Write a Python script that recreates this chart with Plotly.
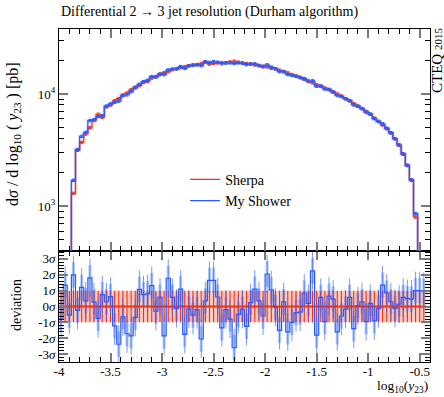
import plotly.graph_objects as go

# ---------------- data ----------------
bin_lo = -4.0
bin_w = 0.04
n_bins = 89

sherpa = [120, 200, 300, 1300, 3150, 3700, 4400, 5000, 5800, 6600,
          6200, 7700, 8000, 8700, 9100, 9800, 10200, 10900, 11500, 11900,
          12700, 13000, 13900, 14300, 14900, 15500, 15800, 16500, 16800, 17200,
          17500, 17900, 18200, 18300, 18600, 19300, 18500, 18800, 19000, 19100,
          19000, 19300, 19600, 19200, 18900, 18700, 18500, 18200, 17900, 17700,
          17500, 17000, 16800, 16300, 15800, 15400, 14900, 14500, 14100, 13500,
          13000, 12600, 12100, 11700, 11300, 10900, 10400, 10000, 9600, 9100,
          8700, 8200, 7800, 7400, 7000, 6600, 6100, 5700, 5300, 4900,
          4500, 4000, 3500, 2900, 2300, 1700, 800, 250, 60]

my_shower = [110, 215, 290, 1700, 3200, 4200, 4550, 5800, 5900, 6300,
             6400, 7800, 8150, 8450, 8650, 9650, 9850, 10500, 11350, 12200,
             12900, 13250, 14300, 14200, 15100, 14900, 16400, 16700, 16750, 17600,
             16900, 17850, 18000, 18250, 17900, 19400, 19100, 19400, 19200, 18650,
             18950, 19000, 18700, 19000, 18850, 18300, 18600, 18550, 18000, 17500,
             18200, 17350, 16800, 15850, 15900, 14950, 14650, 14400, 14000, 13700,
             13050, 13100, 11750, 11800, 11100, 11000, 10450, 9700, 9500, 9080,
             8750, 8000, 7800, 7430, 6900, 6620, 6020, 5690, 5420, 4960,
             4520, 3990, 3510, 2930, 2320, 1720, 860, 270, 65]

deviation = [-0.8, 1.35, -0.55, 2.0, -0.25, 1.2, 0.35, 1.8, 0.28, -0.75,
             0.75, 0.3, 0.62, -1.22, -2.38, -0.65, -1.72, -1.85, -0.68, 1.08,
             0.75, 0.8, 1.32, -0.3, 0.6, -1.85, 1.78, 0.58, -0.12, 1.1,
             -1.76, -0.15, -0.55, -0.2, -2.05, 0.35, 1.65, 1.65, 0.6, -1.35,
             -0.2, -0.8, -2.6, -0.5, -0.17, -1.25, 0.25, 1.1, 0.35, -0.6,
             2.05, 1.05, -0.05, -1.5, 0.3, -1.6, -1.0, -0.4, -0.35, 0.85,
             0.2, 2.25, -1.8, 0.57, -0.95, 0.65, 0.47, -1.6, -0.6, -0.17,
             0.57, -1.4, 0.05, 0.3, -0.95, 0.2, -0.9, -0.12, 1.35, 0.85,
             0.3, -0.12, 0.15, 0.57, 0.5, 0.47, 1.0, 1.0, 0.95]
dev_err = 1.0

x_ticks = [-4, -3.5, -3, -2.5, -2, -1.5, -1, -0.5]
x_ticktext = ["-4", "-3.5", "-3", "-2.5", "-2", "-1.5", "-1", "-0.5"]
dev_ticks = [-3, -2, -1, 0, 1, 2, 3]
dev_ticktext = ["-3<i>σ</i>", "-2<i>σ</i>", "-1<i>σ</i>", "0<i>σ</i>", "1<i>σ</i>", "2<i>σ</i>", "3<i>σ</i>"]
log_ticks = [1000, 10000]
log_ticktext = ["10<sup>3</sup>", "10<sup>4</sup>"]
log_minor = [400, 500, 600, 700, 800, 900, 2000, 3000, 4000, 5000, 6000, 7000, 8000, 9000, 20000, 30000]

# ---------------- derived ----------------
edges = [round(bin_lo + bin_w * k, 4) for k in range(n_bins + 1)]
centers = [round(bin_lo + bin_w * (k + 0.5), 4) for k in range(n_bins)]

RED = "rgb(240,50,20)"
RED_PALE = "rgba(245,80,50,0.22)"
BLUE = "rgb(40,90,255)"
BLUE_PALE = "rgba(60,110,255,0.22)"
FONT = "Liberation Serif"

def step(vals):
    return edges, list(vals) + [vals[-1]]

fig = go.Figure()

# ---------- upper panel ----------
for vals, col, pale, name in [(sherpa, RED, RED_PALE, "Sherpa"), (my_shower, BLUE, BLUE_PALE, "My Shower")]:
    sx, sy = step(vals)
    fig.add_trace(go.Scatter(x=sx, y=sy, mode="lines", line=dict(shape="hv", color=pale, width=3),
                             xaxis="x2", yaxis="y2", showlegend=False, hoverinfo="skip"))
    fig.add_trace(go.Scatter(x=centers, y=vals, mode="markers", marker=dict(size=1, color=col, opacity=0),
                             error_y=dict(type="percent", value=2.5, color=col, thickness=1, width=1.5),
                             xaxis="x2", yaxis="y2", showlegend=False, hoverinfo="skip"))
    fig.add_trace(go.Scatter(x=sx, y=sy, mode="lines", line=dict(shape="hv", color=col, width=1.2),
                             xaxis="x2", yaxis="y2", name=name))

# ---------- lower panel ----------
fig.add_trace(go.Scatter(x=[edges[0], edges[-1], edges[-1], edges[0], edges[0]],
                         y=[-1, -1, 1, 1, -1], mode="lines", fill="toself",
                         fillcolor="rgba(250,120,95,0.40)", line=dict(width=0),
                         xaxis="x", yaxis="y", showlegend=False, hoverinfo="skip"))
fig.add_trace(go.Scatter(x=centers, y=deviation, mode="markers", marker=dict(size=1, color=BLUE, opacity=0),
                         error_y=dict(type="constant", value=dev_err * 0.8, color="rgba(80,130,255,0.45)",
                                      thickness=3, width=0),
                         xaxis="x", yaxis="y", showlegend=False, hoverinfo="skip"))
rx, ry = [], []
for c in centers:
    rx += [c, c, None]
    ry += [-1, 1, None]
fig.add_trace(go.Scatter(x=rx, y=ry, mode="lines", line=dict(color=RED, width=1.1),
                         xaxis="x", yaxis="y", showlegend=False, hoverinfo="skip"))
fig.add_trace(go.Scatter(x=centers, y=deviation, mode="markers", marker=dict(size=1, color=BLUE, opacity=0),
                         error_y=dict(type="constant", value=dev_err * 1.2, color="rgba(50,100,255,0.65)",
                                      thickness=1, width=0),
                         xaxis="x", yaxis="y", showlegend=False, hoverinfo="skip"))
fig.add_trace(go.Scatter(x=[edges[0], edges[-1]], y=[0, 0], mode="lines", line=dict(color=RED, width=2.2),
                         xaxis="x", yaxis="y", showlegend=False, hoverinfo="skip"))
dx, dy = step(deviation)
fig.add_trace(go.Scatter(x=dx, y=dy, mode="lines", line=dict(shape="hv", color=BLUE, width=1.2),
                         xaxis="x", yaxis="y", showlegend=False, hoverinfo="skip"))

tickfont = dict(family=FONT, size=13, color="black")
common_x = dict(range=[-4, -0.4], tickmode="array", tickvals=x_ticks, ticks="inside", ticklen=9,
                tickwidth=1.6, tickcolor="#7a7a7a", showline=True, linecolor="black", linewidth=1,
                mirror="allticks", showgrid=False, zeroline=False,
                minor=dict(ticks="inside", ticklen=5, tickwidth=1, tickcolor="black",
                           tickmode="linear", tick0=-4, dtick=0.1, showgrid=False))

split = 111 / 333
fig.update_layout(
    width=444, height=397,
    margin=dict(l=59, r=14, t=29, b=35),
    paper_bgcolor="white", plot_bgcolor="white",
    font=dict(family=FONT, size=13, color="black"),
    xaxis=dict(anchor="y", domain=[0, 1], ticktext=x_ticktext, tickfont=tickfont,
               ticklabelstandoff=-3, **common_x),
    xaxis2=dict(anchor="y2", domain=[0, 1], matches="x", showticklabels=False, **common_x),
    yaxis=dict(anchor="x", domain=[0, split], range=[-3.5, 3.5], tickmode="array", tickvals=dev_ticks,
               ticktext=dev_ticktext, tickfont=tickfont, ticks="inside", ticklen=9, tickwidth=1.6,
               tickcolor="#7a7a7a", showline=True, linecolor="black", linewidth=1, mirror="allticks",
               showgrid=False, zeroline=False,
               minor=dict(ticks="inside", ticklen=5, tickwidth=1, tickcolor="black", tickmode="linear",
                          tick0=0, dtick=0.2, showgrid=False)),
    yaxis2=dict(anchor="x2", domain=[split, 1], type="log", range=[2.6, 4.58], tickmode="array",
                tickvals=log_ticks, ticktext=log_ticktext, tickfont=tickfont, ticks="inside", ticklen=9,
                tickwidth=1.6, tickcolor="#7a7a7a", showline=True, linecolor="black", linewidth=1,
                mirror="allticks", showgrid=False, zeroline=False,
                minor=dict(ticks="inside", ticklen=5, tickwidth=1, tickcolor="black", tickmode="array",
                           tickvals=log_minor, showgrid=False)),
    legend=dict(x=0.34, y=0.595, xanchor="left", yanchor="top", bgcolor="rgba(0,0,0,0)",
                font=dict(family=FONT, size=14), tracegroupgap=0, itemwidth=30),
    showlegend=True,
)

ann_font = dict(family=FONT, size=14, color="black")
fig.add_annotation(text="Differential 2 → 3 jet resolution (Durham algorithm)", xref="paper", yref="paper",
                   x=0, y=1 + 17 / 333, xanchor="left", yanchor="middle", showarrow=False, font=ann_font)
fig.add_annotation(text="d<i>σ</i> / d log<sub>10</sub> ( <i>y</i><sub>23</sub> ) [pb]", xref="paper", yref="paper",
                   x=(13 - 59) / 371, y=1 - (134 - 29) / 333, xanchor="center", yanchor="middle",
                   textangle=-90, showarrow=False, font=dict(family=FONT, size=16, color="black"))
fig.add_annotation(text="deviation", xref="paper", yref="paper",
                   x=(16 - 59) / 371, y=(362 - 305) / 333, xanchor="center", yanchor="middle",
                   textangle=-90, showarrow=False, font=ann_font)
fig.add_annotation(text="log<sub>10</sub>(<i>y</i><sub>23</sub>)", xref="paper", yref="paper",
                   x=1, y=-(397 - 362) / 333, xanchor="right", yanchor="bottom", showarrow=False,
                   font=dict(family=FONT, size=13.5, color="black"))
fig.add_annotation(text="CTEQ <span style='font-size:11px'>2015</span>", xref="paper", yref="paper",
                   x=(437 - 59) / 371, y=1 - (61 - 29) / 333, xanchor="center", yanchor="middle",
                   textangle=-90, showarrow=False, font=dict(family=FONT, size=15, color="black"))

fig.write_html("out.html")
